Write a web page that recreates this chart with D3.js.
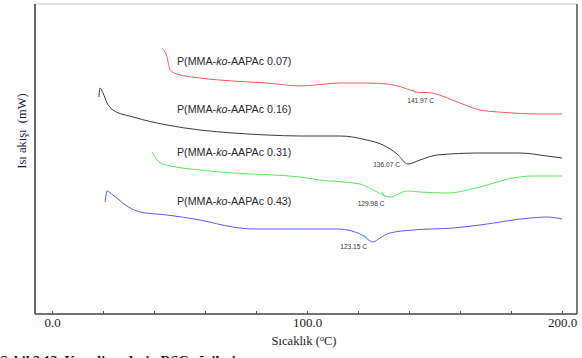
<!DOCTYPE html>
<html>
<head>
<meta charset="utf-8">
<script src="https://cdn.jsdelivr.net/npm/d3@7"></script>
<style>
  body { margin: 0; background: #fff; }
  svg { display: block; }
</style>
</head>
<body>
<svg id="chart" width="582" height="358"></svg>
<script>
// DSC curves, heat flow in arbitrary units (mW, offset per sample)
const seriesNames = ["0.07", "0.16", "0.31", "0.43"];
const seriesColors = ["#ff5a5a", "#3a3a3a", "#5ae85a", "#5a5aff"];

const tempRed = [43.1, 45.1, 46.3, 49, 58, 71, 84.3, 97.3, 113, 123.5, 131.4, 137, 141.6, 144, 147, 150, 153, 157, 162, 167.8, 175, 180.8, 190, 200];
const flowRed = [26.6, 25.7, 24.4, 24.0, 23.6, 23.3, 23.1, 22.8, 23.1, 23.1, 23.0, 22.7, 22.3, 22.15, 22.15, 22.05, 21.8, 21.4, 20.9, 20.4, 20.2, 20.1, 20.0, 20.0];

const tempBlack = [18.4, 18.8, 20, 21.6, 23.9, 31.8, 45.1, 58, 71, 84.3, 97.3, 113, 123.5, 129.8, 135.3, 139.6, 144.3, 151, 167.8, 183.5, 194, 200];
const flowBlack = [21.7, 22.6, 22.1, 21.1, 20.4, 19.7, 18.9, 18.4, 18.1, 17.9, 17.8, 17.8, 17.4, 16.9, 16.0, 15.0, 15.4, 15.9, 16.1, 16.1, 15.8, 15.6];

const tempGreen = [39.2, 41.2, 43.5, 58, 71, 97.3, 105, 120.8, 127.5, 132.5, 139.2, 144.3, 155, 167.8, 180.8, 188.6, 200];
const flowGreen = [16.2, 15.4, 15.0, 14.4, 14.1, 13.7, 13.4, 13.0, 12.2, 11.7, 12.3, 12.2, 12.1, 12.7, 13.6, 13.8, 13.8];

const tempBlue = [20.8, 21.6, 23.9, 29.4, 34.5, 45.1, 58, 71, 78.8, 97.3, 111.8, 117.6, 121.6, 125.9, 128.6, 132.5, 141.6, 157.3, 167.8, 187.5, 194, 200];
const flowBlue = [11.2, 12.3, 11.9, 10.8, 10.2, 9.9, 9.4, 8.7, 8.5, 8.5, 8.5, 8.3, 7.9, 7.2, 7.6, 8.1, 8.4, 8.6, 8.9, 9.6, 9.7, 9.5];

const glassTemps = [141.97, 136.07, 129.98, 123.15];
const labelTemp = 49;
const labelFlow = [24.9, 20.1, 15.8, 10.9];

const xTicks = [0, 20, 40, 60, 80, 100, 120, 140, 160, 180, 200];

const temps = [tempRed, tempBlack, tempGreen, tempBlue];
const flows = [flowRed, flowBlack, flowGreen, flowBlue];

const svg = d3.select("#chart");
const frameL = 35, frameR = 577, frameT = 4, frameB = 314;

const x = d3.scaleLinear().domain([0, 200]).range([52, 562]);
const y = d3.scaleLinear().domain([0, 31]).range([frameB, frameT]);

// frame
svg.append("line").attr("x1", frameL).attr("x2", frameR).attr("y1", frameT).attr("y2", frameT)
    .attr("stroke", "#c8c8c8").attr("stroke-width", 1);
svg.append("line").attr("x1", frameR).attr("x2", frameR).attr("y1", frameT).attr("y2", frameB)
    .attr("stroke", "#333").attr("stroke-width", 1.3);
svg.append("line").attr("x1", frameL).attr("x2", frameL).attr("y1", frameT).attr("y2", frameB)
    .attr("stroke", "#333").attr("stroke-width", 1.5);

const xAxis = d3.axisBottom(x)
    .tickValues(xTicks)
    .tickSize(-3)
    .tickSizeOuter(0)
    .tickFormat(d => d % 100 === 0 ? d.toFixed(1) : "");

const gx = svg.append("g").attr("transform", "translate(0," + frameB + ")").call(xAxis);
gx.select(".domain").attr("d", "M" + frameL + ",0H" + frameR).attr("stroke", "#444").attr("stroke-width", 1.5);
gx.selectAll(".tick line").attr("stroke", "#555");
gx.selectAll(".tick text")
    .attr("y", 13).attr("dy", 0)
    .attr("font-family", "Liberation Serif, Times New Roman, serif")
    .attr("font-size", 13).attr("fill", "#222");

// axis titles
const xt = svg.append("text")
    .attr("x", 304).attr("y", 345)
    .attr("text-anchor", "middle")
    .attr("font-family", "Liberation Serif, Times New Roman, serif")
    .attr("font-size", 12.5).attr("fill", "#222");
xt.append("tspan").text("Sıcaklık (");
xt.append("tspan").text("o").attr("font-size", 8).attr("dy", -4);
xt.append("tspan").text("C)").attr("dy", 4);

svg.append("text")
    .attr("transform", "translate(26,131) rotate(-90)")
    .attr("text-anchor", "middle")
    .attr("font-family", "Liberation Serif, Times New Roman, serif")
    .attr("font-size", 12.5).attr("fill", "#1c1c40")
    .attr("xml:space", "preserve")
    .text("Isı akışı  (mW)");

// curves
const line = d3.line().curve(d3.curveMonotoneX);

seriesNames.forEach((name, i) => {
    const pts = temps[i].map((t, j) => [x(t), y(flows[i][j])]);
    svg.append("path")
        .attr("d", line(pts))
        .attr("fill", "none")
        .attr("stroke", seriesColors[i])
        .attr("stroke-width", 1);

    // glass transition marker and label
    const tg = glassTemps[i];
    const fg = d3.scaleLinear().domain(temps[i]).range(flows[i])(tg);
    svg.append("line")
        .attr("x1", x(tg) - 1.5).attr("x2", x(tg) + 1.5)
        .attr("y1", y(fg) - 2).attr("y2", y(fg) + 2)
        .attr("stroke", "#33cccc").attr("stroke-width", 1);
    svg.append("text")
        .attr("x", x(tg) + (i === 0 ? 20 : 1))
        .attr("y", y(fg) + 11.5)
        .attr("text-anchor", "end")
        .attr("font-family", "Liberation Sans, Arial, sans-serif")
        .attr("font-size", 6.6).attr("fill", "#333")
        .text(tg.toFixed(2) + " C");

    const lab = svg.append("text")
        .attr("x", x(labelTemp)).attr("y", y(labelFlow[i]))
        .attr("font-family", "Liberation Sans, Arial, sans-serif")
        .attr("font-size", 10.7).attr("fill", "#2a2a2a");
    lab.append("tspan").text("P(MMA-");
    lab.append("tspan").text("ko").attr("font-style", "italic");
    lab.append("tspan").text("-AAPAc " + name + ")");
});

// figure caption, cut off at the bottom edge as in the source image
svg.append("text")
    .attr("x", 0).attr("y", 366)
    .attr("font-family", "Liberation Serif, Times New Roman, serif")
    .attr("font-size", 14).attr("font-weight", "bold").attr("fill", "#111")
    .text("Şekil 3.13. Kopolimerlerin DSC eğrileri");
</script>
</body>
</html>
